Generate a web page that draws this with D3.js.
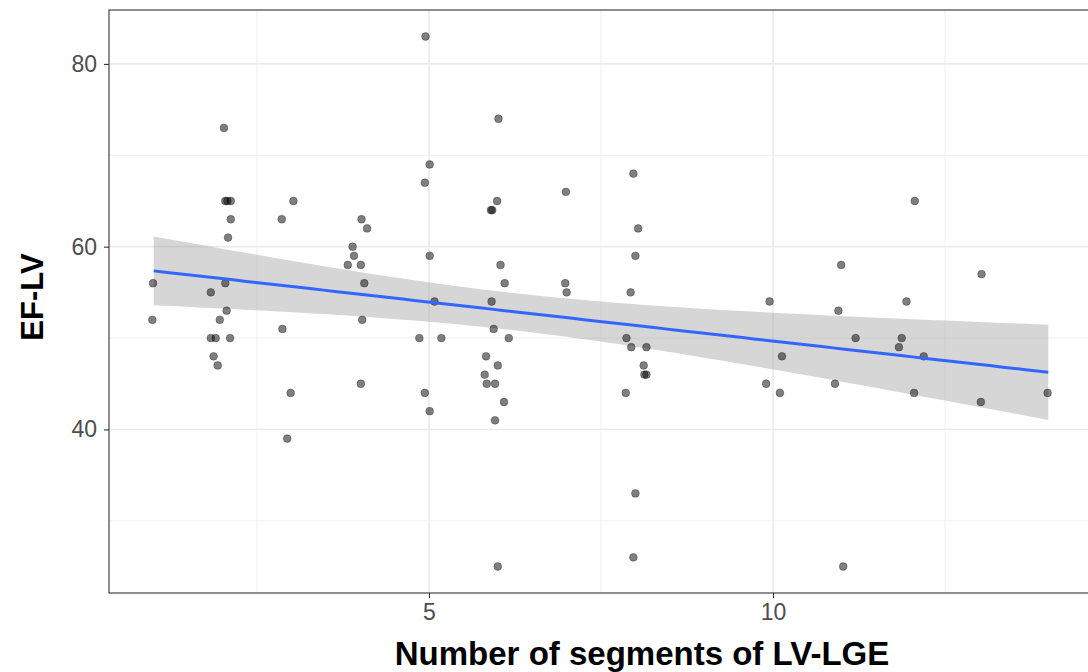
<!DOCTYPE html>
<html>
<head>
<meta charset="utf-8">
<script src="https://cdn.jsdelivr.net/npm/d3@7"></script>
<style>
  body { margin: 0; background: #fff; }
  text { font-family: "Liberation Sans", Arial, sans-serif; }
</style>
</head>
<body>
<div id="chart"></div>
<script>
// Number of LGE segments (as plotted, with jitter) and EF-LV values
const segments = [
  4.95, 2.02, 2.04, 2.07, 2.12, 2.12, 2.08, 2.86, 3.03, 4.02, 4.10, 3.89, 3.91,
  3.82, 4.01, 0.99, 4.06, 2.04, 1.83, 4.94, 5.01, 5.01, 6.01, 5.99, 5.90, 5.92,
  6.99, 7.97, 8.04, 8.00, 6.04, 6.10, 6.98, 7.00, 7.93, 5.08, 5.91, 0.98, 2.06,
  1.96, 1.83, 1.90, 2.11, 1.87, 1.93, 2.87, 2.99, 2.94, 4.03, 4.01, 4.86, 4.94,
  5.01, 5.18, 5.94, 6.16, 5.83, 6.00, 5.81, 5.84, 5.96, 6.09, 5.96, 6.00, 7.87,
  7.94, 8.16, 8.12, 8.13, 8.16, 7.86, 8.00, 7.97, 9.95, 10.95, 11.94, 11.20,
  11.87, 11.83, 12.19, 10.13, 9.90, 10.10, 10.90, 12.05, 13.02, 13.99, 11.02,
  12.06, 10.99, 13.03
];
const efLv = [
  83, 73, 65, 65, 65, 63, 61, 63, 65, 63, 62, 60, 59,
  58, 58, 56, 56, 56, 55, 67, 69, 59, 74, 65, 64, 64,
  66, 68, 62, 59, 58, 56, 56, 55, 55, 54, 54, 52, 53,
  52, 50, 50, 50, 48, 47, 51, 44, 39, 52, 45, 50, 44,
  42, 50, 51, 50, 48, 47, 46, 45, 45, 43, 41, 25, 50,
  49, 49, 47, 46, 46, 44, 33, 26, 54, 53, 54, 50,
  50, 49, 48, 48, 45, 44, 45, 44, 43, 44, 25,
  65, 58, 57
];
const xTicks = [5, 10];
const yTicks = [40, 60, 80];
const xMinor = [2.5, 7.5, 12.5];
const yMinor = [30, 50, 70];

const width = 1088;
const height = 672;
const panel = { left: 109, top: 10, right: 1093, bottom: 593 };

const data = segments.map((x, i) => ({ x: x, y: efLv[i] }));

const svg = d3
  .select("#chart")
  .append("svg")
  .attr("width", width)
  .attr("height", height);

// Scales (ggplot style 5% expansion)
const xScale = d3.scaleLinear().domain([0.35, 14.65]).range([panel.left, panel.right]);
const yScale = d3.scaleLinear().domain([22.1, 85.9]).range([panel.bottom, panel.top]);

// Grid lines
const grid = svg.append("g");
grid.selectAll(".vminor").data(xMinor).enter().append("line")
  .attr("x1", (d) => xScale(d)).attr("x2", (d) => xScale(d))
  .attr("y1", panel.top).attr("y2", panel.bottom)
  .attr("stroke", "#ebebeb").attr("stroke-width", 0.8);
grid.selectAll(".hminor").data(yMinor).enter().append("line")
  .attr("x1", panel.left).attr("x2", panel.right)
  .attr("y1", (d) => yScale(d)).attr("y2", (d) => yScale(d))
  .attr("stroke", "#ebebeb").attr("stroke-width", 0.8);
grid.selectAll(".vmajor").data(xTicks).enter().append("line")
  .attr("x1", (d) => xScale(d)).attr("x2", (d) => xScale(d))
  .attr("y1", panel.top).attr("y2", panel.bottom)
  .attr("stroke", "#ebebeb").attr("stroke-width", 1.6);
grid.selectAll(".hmajor").data(yTicks).enter().append("line")
  .attr("x1", panel.left).attr("x2", panel.right)
  .attr("y1", (d) => yScale(d)).attr("y2", (d) => yScale(d))
  .attr("stroke", "#ebebeb").attr("stroke-width", 1.6);

// Linear fit on the un-jittered counts, with 95% confidence band
const fitX = data.map((d) => Math.round(d.x));
const n = data.length;
const mx = d3.mean(fitX);
const my = d3.mean(data, (d) => d.y);
let sxx = 0, sxy = 0;
fitX.forEach((x, i) => {
  sxx += (x - mx) ** 2;
  sxy += (x - mx) * (data[i].y - my);
});
const slope = sxy / sxx;
const intercept = my - slope * mx;
const rss = d3.sum(fitX, (x, i) => (data[i].y - (intercept + slope * x)) ** 2);
const sigma = Math.sqrt(rss / (n - 2));
const tq = 1.986;
const [x0, x1] = d3.extent(fitX);
const fit = d3.range(80).map((i) => {
  const x = x0 + ((x1 - x0) * i) / 79;
  const yhat = intercept + slope * x;
  const se = sigma * Math.sqrt(1 / n + (x - mx) ** 2 / sxx);
  return { x: x, y: yhat, lo: yhat - tq * se, hi: yhat + tq * se };
});

svg.append("path")
  .datum(fit)
  .attr("fill", "#999999")
  .attr("fill-opacity", 0.4)
  .attr("d", d3.area().x((d) => xScale(d.x)).y0((d) => yScale(d.lo)).y1((d) => yScale(d.hi)));

// Points
svg.selectAll(".dot")
  .data(data)
  .enter()
  .append("circle")
  .attr("class", "dot")
  .attr("cx", (d) => xScale(d.x))
  .attr("cy", (d) => yScale(d.y))
  .attr("r", 3.9)
  .attr("fill", "#000")
  .attr("fill-opacity", 0.5)
  .attr("stroke", "#000")
  .attr("stroke-opacity", 0.35)
  .attr("stroke-width", 0.8);

// Fit line
svg.append("path")
  .datum(fit)
  .attr("fill", "none")
  .attr("stroke", "#3366ff")
  .attr("stroke-width", 3)
  .attr("d", d3.line().x((d) => xScale(d.x)).y((d) => yScale(d.y)));

// Panel border
svg.append("rect")
  .attr("x", panel.left).attr("y", panel.top)
  .attr("width", panel.right - panel.left).attr("height", panel.bottom - panel.top)
  .attr("fill", "none").attr("stroke", "#333333").attr("stroke-width", 1.1);

// Axes
const xAxis = svg.append("g")
  .attr("transform", `translate(0, ${panel.bottom})`)
  .call(d3.axisBottom(xScale).tickValues(xTicks).tickSize(5).tickPadding(6).tickFormat(d3.format("d")));
const yAxis = svg.append("g")
  .attr("transform", `translate(${panel.left}, 0)`)
  .call(d3.axisLeft(yScale).tickValues(yTicks).tickSize(5).tickPadding(7).tickFormat(d3.format("d")));
[xAxis, yAxis].forEach((g) => {
  g.select(".domain").remove();
  g.selectAll(".tick line").attr("stroke", "#333333").attr("stroke-width", 1.1);
  g.selectAll(".tick text")
    .attr("fill", "#4d4d4d")
    .style("font-size", "23px")
    .style("font-family", "'Liberation Sans', Arial, sans-serif");
});

// Axis titles
svg.append("text")
  .attr("x", 642)
  .attr("y", 665)
  .attr("text-anchor", "middle")
  .style("font-size", "33px")
  .style("font-weight", "bold")
  .text("Number of segments of LV-LGE");

svg.append("text")
  .attr("transform", `translate(43, 297) rotate(-90)`)
  .attr("text-anchor", "middle")
  .style("font-size", "31px")
  .style("font-weight", "bold")
  .text("EF-LV");
</script>
</body>
</html>
